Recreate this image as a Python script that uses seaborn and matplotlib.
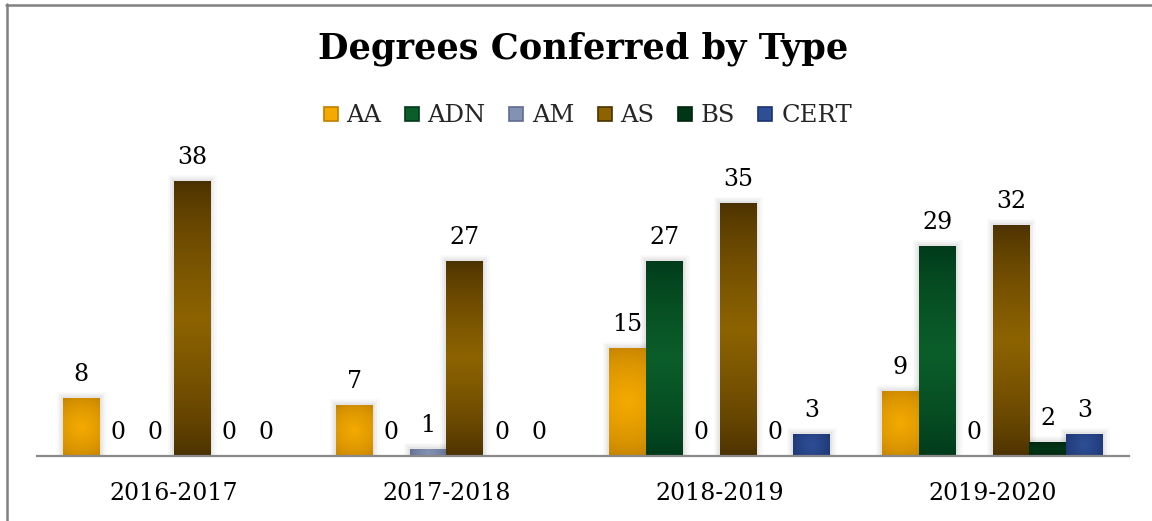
import numpy as np
import pandas as pd
import matplotlib
matplotlib.use("Agg")
import matplotlib.pyplot as plt
import matplotlib.patheffects as pe
from matplotlib.colors import to_rgb
from matplotlib.lines import Line2D
import seaborn as sns

# ---- data ----
years = ["2016-2017", "2017-2018", "2018-2019", "2019-2020"]
degree_types = ["AA", "ADN", "AM", "AS", "BS", "CERT"]
aa = [8, 7, 15, 9]
adn = [0, 0, 27, 29]
am = [0, 1, 0, 0]
as_ = [38, 27, 35, 32]
bs = [0, 0, 0, 2]
cert = [0, 0, 3, 3]

# ---- styling ----
base_colors = {"AA": "#E9A000", "ADN": "#085626", "AM": "#7887A9",
               "AS": "#7E5800", "BS": "#002A10", "CERT": "#27458A"}
# (edge colour, centre colour, gradient kind)
shading = {
    "AA":   ("#C07F00", "#F4AA00", "radial"),
    "ADN":  ("#00391A", "#0B5E2A", "linear"),
    "AM":   ("#5E6C90", "#8391B3", "radial"),
    "AS":   ("#4A3000", "#8D6300", "linear"),
    "BS":   ("#00240C", "#003516", "linear"),
    "CERT": ("#1B326E", "#2E4E95", "radial"),
}

df = pd.DataFrame({
    "Year": np.repeat(years, len(degree_types)),
    "Type": degree_types * len(years),
})
series = {"AA": aa, "ADN": adn, "AM": am, "AS": as_, "BS": bs, "CERT": cert}
df["Count"] = [series[t][i] for i in range(len(years)) for t in degree_types]

sns.set_style("white")
plt.rcParams["font.family"] = ["DejaVu Serif"]

W, H, DPI = 1152, 521, 100
fig = plt.figure(figsize=(W / DPI, H / DPI), dpi=DPI)
ax_left, ax_right, ax_bottom, ax_top = 37, 1129, 456, 150
ax = fig.add_axes([ax_left / W, (H - ax_bottom) / H,
                   (ax_right - ax_left) / W, (ax_bottom - ax_top) / H])

sns.barplot(data=df, x="Year", y="Count", hue="Type", hue_order=degree_types,
            order=years, palette=base_colors, saturation=1, width=0.81,
            legend=False, ax=ax, errorbar=None)

ymax = (ax_bottom - ax_top) / 7.23
ax.set_xlim(-0.5, len(years) - 0.5)
ax.set_ylim(0, ymax)


def gradient_image(kind, c_edge, c_mid, wpx, hpx, n=128):
    e = np.array(to_rgb(c_edge))
    m = np.array(to_rgb(c_mid))
    v = np.linspace(0, 1, n)[:, None]
    u = np.linspace(0, 1, n)[None, :]
    if kind == "linear":
        t = 1 - np.abs(2 * v - 1) + 0 * u
        t = t ** 0.7
    else:
        dx = (u - 0.5) * wpx
        dy = (v - 0.5) * hpx
        r = np.hypot(dx, dy) / (0.5 * np.hypot(wpx, hpx))
        t = np.clip(1 - r, 0, 1) ** 0.6
    return e[None, None, :] * (1 - t[..., None]) + m[None, None, :] * t[..., None]


shadow = [pe.Stroke(linewidth=9, foreground="#000000", alpha=0.025),
          pe.Stroke(linewidth=6, foreground="#000000", alpha=0.035),
          pe.Stroke(linewidth=3, foreground="#000000", alpha=0.045),
          pe.Normal()]

px_per_x = (ax_right - ax_left) / len(years)
px_per_y = (ax_bottom - ax_top) / ymax

for dtype, container in zip(degree_types, ax.containers):
    c_edge, c_mid, kind = shading[dtype]
    for rect, val in zip(container.patches, series[dtype]):
        x0, w, h = rect.get_x(), rect.get_width(), rect.get_height()
        rect.set_edgecolor("none")
        if h > 0:
            rect.set_path_effects(shadow)
            img = gradient_image(kind, c_edge, c_mid, w * px_per_x, h * px_per_y)
            im = ax.imshow(img, extent=[x0, x0 + w, 0, h], origin="upper",
                           aspect="auto", interpolation="bilinear", zorder=rect.get_zorder() + 0.1)
            im.set_clip_path(rect)
        ax.annotate(f"{val}", xy=(x0 + w / 2, h), xytext=(0, 12.2),
                    textcoords="offset points", ha="center", va="baseline",
                    fontsize=17, color="#000000")

ax.set_xlim(-0.5, len(years) - 0.5)
ax.set_ylim(0, ymax)

for s in ["left", "right", "top"]:
    ax.spines[s].set_visible(False)
ax.spines["bottom"].set_color("#8A8A8A")
ax.spines["bottom"].set_linewidth(1.6)
ax.spines["bottom"].set_zorder(5)
ax.set_yticks([])
ax.set_xlabel("")
ax.set_ylabel("")
ax.tick_params(axis="x", length=0, pad=19, labelsize=17, labelcolor="#000000")

# title and legend
cx = (ax_left + ax_right) / 2 / W
fig.text(cx, (H - 58) / H, "Degrees Conferred by Type", ha="center", va="baseline",
         fontsize=25.3, fontweight="bold", color="#000000")

handles = [Line2D([], [], marker="s", linestyle="none", markersize=10,
                  markerfacecolor=shading[t][1], markeredgecolor=shading[t][0],
                  markeredgewidth=1.2)
           for t in degree_types]
fig.legend(handles, degree_types, loc="center", bbox_to_anchor=(587 / W, (H - 116) / H),
           ncol=6, frameon=False, fontsize=17.5, handlelength=0.7, handletextpad=0.3,
           columnspacing=0.9, borderaxespad=0)

# outer frame (top and left edges)
fig.add_artist(Line2D([6 / W, 1.0], [(H - 5) / H, (H - 5) / H], color="#808080",
                      linewidth=1.8, transform=fig.transFigure))
fig.add_artist(Line2D([7 / W, 7 / W], [0, (H - 4) / H], color="#808080",
                      linewidth=1.8, transform=fig.transFigure))

fig.savefig("out.png", dpi=DPI, facecolor="white")
